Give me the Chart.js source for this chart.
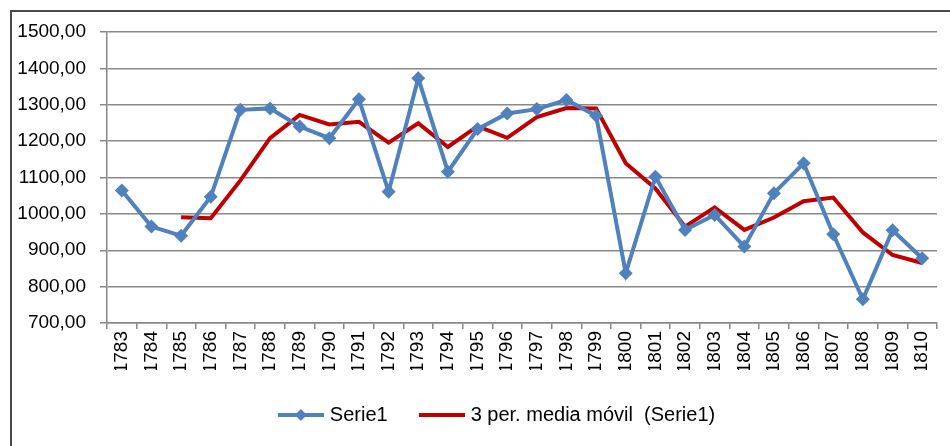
<!DOCTYPE html>
<html>
<head>
<meta charset="utf-8">
<script src="https://cdn.jsdelivr.net/npm/chart.js@4.4.1/dist/chart.umd.min.js"></script>
<style>
  html, body { margin: 0; padding: 0; background: #fff; overflow: hidden; }
  #wrap { position: relative; width: 950px; height: 446px; }
  #frame { position: absolute; left: 10px; top: 10px; width: 1000px; height: 500px;
           border-left: 2px solid #4a4a4a; border-top: 2px solid #4a4a4a; }
  canvas { position: absolute; left: 0; top: 0; }
</style>
</head>
<body>
<div id="wrap">
  <div id="frame"></div>
  <canvas id="chart" width="950" height="446"></canvas>
</div>
<script>
// Years on the category axis
const years = ['1783', '1784', '1785', '1786', '1787', '1788', '1789', '1790', '1791', '1792',
  '1793', '1794', '1795', '1796', '1797', '1798', '1799', '1800', '1801', '1802',
  '1803', '1804', '1805', '1806', '1807', '1808', '1809', '1810'];

// Serie1 values
const serie1 = [1064, 965, 940, 1047, 1286, 1290, 1240, 1208, 1315, 1061,
  1373, 1116, 1233, 1276, 1288, 1313, 1270, 837, 1102, 956,
  997, 910, 1057, 1139, 944, 765, 955, 878];

// 3 period moving average line (starts at 1785)
const mediaMovil = [null, null, 991, 988, 1092, 1208, 1272, 1246, 1253, 1196,
  1249, 1184, 1241, 1209, 1266, 1291, 1290, 1139, 1070, 965,
  1018, 956, 990, 1035, 1045, 949, 887, 865];

// Y axis ticks
const yMin = 700;
const yMax = 1500;
const yStep = 100;

const blue = '#4F81BD';
const red = '#C00000';
const gridGray = '#888888';
const fontFamily = '"Liberation Sans", Arial, sans-serif';

// small canvas icons for the legend (line + marker)
function legendIcon(color, withDiamond) {
  const c = document.createElement('canvas');
  c.width = 46;
  c.height = 14;
  const ctx = c.getContext('2d');
  ctx.strokeStyle = color;
  ctx.lineWidth = 4;
  ctx.beginPath();
  ctx.moveTo(0, 7);
  ctx.lineTo(46, 7);
  ctx.stroke();
  if (withDiamond) {
    ctx.fillStyle = color;
    ctx.beginPath();
    ctx.moveTo(23, 1);
    ctx.lineTo(29, 7);
    ctx.lineTo(23, 13);
    ctx.lineTo(17, 7);
    ctx.closePath();
    ctx.fill();
  }
  return c;
}

// nudge the legend to the right, Excel centres it a bit off the canvas middle
const legendShift = {
  id: 'legendShift',
  afterLayout: function(chart) {
    if (chart.legend) {
      chart.legend.left += 30;
      chart.legend.right += 30;
    }
  }
};

const ctx = document.getElementById('chart');
new Chart(ctx, {
  type: 'line',
  data: {
    labels: years,
    datasets: [{
      label: 'Serie1',
      data: serie1,
      borderColor: blue,
      backgroundColor: blue,
      borderWidth: 4,
      pointStyle: 'rectRot',
      pointRadius: 7,
      pointBorderWidth: 0,
      pointBackgroundColor: blue,
      tension: 0
    }, {
      label: '3 per. media móvil  (Serie1)',
      data: mediaMovil,
      borderColor: red,
      backgroundColor: red,
      borderWidth: 4,
      pointRadius: 0,
      tension: 0,
      spanGaps: false
    }]
  },
  plugins: [legendShift],
  options: {
    responsive: false,
    animation: false,
    layout: {
      padding: { left: 0, right: 13, top: 32, bottom: 11 }
    },
    plugins: {
      tooltip: { enabled: false },
      legend: {
        position: 'bottom',
        labels: {
          color: '#000',
          font: { family: fontFamily, size: 20 },
          usePointStyle: true,
          pointStyleWidth: 38,
          padding: 35,
          generateLabels: function(chart) {
            return chart.data.datasets.map(function(ds, i) {
              return {
                text: ds.label,
                pointStyle: legendIcon(ds.borderColor, i === 0),
                fillStyle: ds.borderColor,
                strokeStyle: ds.borderColor,
                lineWidth: 0,
                hidden: false,
                datasetIndex: i
              };
            });
          }
        }
      }
    },
    scales: {
      x: {
        offset: true,
        afterFit: function(scale) { scale.height = 47; },
        grid: {
          offset: true,
          drawOnChartArea: false,
          drawTicks: true,
          tickLength: 6,
          color: gridGray,
          lineWidth: 1.5
        },
        border: { display: true, color: gridGray, width: 1.5 },
        ticks: {
          color: '#000',
          font: { family: fontFamily, size: 19 },
          minRotation: 90,
          maxRotation: 90,
          autoSkip: false,
          padding: 2
        }
      },
      y: {
        min: yMin,
        max: yMax,
        afterFit: function(scale) { scale.width = 107; },
        grid: {
          color: gridGray,
          lineWidth: 1.5,
          drawTicks: true,
          tickLength: 7
        },
        border: { display: true, color: gridGray, width: 1.5 },
        ticks: {
          stepSize: yStep,
          color: '#000',
          font: { family: fontFamily, size: 19 },
          padding: 14,
          callback: function(value) {
            return value.toFixed(2).replace('.', ',');
          }
        }
      }
    }
  }
});
</script>
</body>
</html>
